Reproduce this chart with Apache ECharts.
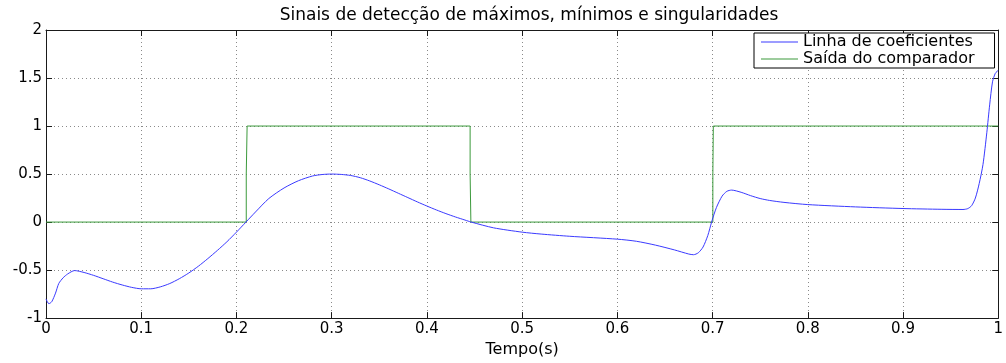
<!DOCTYPE html>
<html>
<head>
<meta charset="utf-8">
<script src="https://cdn.jsdelivr.net/npm/echarts@6/dist/echarts.min.js"></script>
<style>
  html, body { margin: 0; padding: 0; background: #fff; }
  #chart { width: 1006px; height: 363px; }
</style>
</head>
<body>
<div id="chart"></div>
<script>
// Coefficient line: time samples (s) and values
const coefTime = [0, 0.003, 0.006, 0.01, 0.0134, 0.018, 0.0228, 0.03, 0.04, 0.05, 0.06, 0.07, 0.08, 0.09, 0.1, 0.11, 0.12, 0.13, 0.14, 0.15, 0.16, 0.17, 0.18, 0.19, 0.2, 0.21, 0.22, 0.234, 0.25, 0.265, 0.28, 0.29, 0.3, 0.31, 0.32, 0.33, 0.34, 0.35, 0.36, 0.37, 0.38, 0.39, 0.4, 0.41, 0.42, 0.43, 0.44, 0.4465, 0.47, 0.5, 0.52, 0.55, 0.6, 0.62, 0.64, 0.66, 0.675, 0.68, 0.685, 0.69, 0.695, 0.699, 0.704, 0.71, 0.715, 0.72, 0.73, 0.74, 0.75, 0.76, 0.775, 0.8, 0.85, 0.9, 0.94, 0.963, 0.968, 0.972, 0.976, 0.98, 0.984, 0.988, 0.991, 0.994, 0.997, 1.0];
const coefValue = [-0.80, -0.85, -0.83, -0.74, -0.64, -0.58, -0.54, -0.505, -0.525, -0.555, -0.59, -0.625, -0.655, -0.68, -0.695, -0.695, -0.675, -0.64, -0.59, -0.53, -0.46, -0.38, -0.295, -0.205, -0.105, 0.0, 0.105, 0.245, 0.355, 0.43, 0.48, 0.495, 0.50, 0.496, 0.485, 0.462, 0.428, 0.388, 0.345, 0.3, 0.255, 0.21, 0.167, 0.126, 0.088, 0.053, 0.021, 0.0, -0.06, -0.105, -0.125, -0.148, -0.178, -0.2, -0.24, -0.29, -0.333, -0.34, -0.32, -0.26, -0.14, 0.0, 0.15, 0.27, 0.32, 0.333, 0.31, 0.275, 0.245, 0.225, 0.205, 0.182, 0.158, 0.141, 0.133, 0.131, 0.14, 0.17, 0.25, 0.4, 0.6, 0.93, 1.22, 1.46, 1.55, 1.58];

// Comparator output: step signal (time, level)
const compTime = [0, 0.2103, 0.2103, 0.2112, 0.2112, 0.4454, 0.4454, 0.4462, 0.4462, 0.7003, 0.7003, 0.7008, 0.7008, 1.0];
const compValue = [0, 0, 0.5, 0.5, 1, 1, 0.5, 0.5, 0, 0, 0.5, 0.5, 1, 1];

const seriesNames = ['Linha de coeficientes', 'Saída do comparador'];
const titleText = 'Sinais de detecção de máximos, mínimos e singularidades';
const xName = 'Tempo(s)';

const zip = (xs, ys) => xs.map((x, i) => [x, ys[i]]);

const FONT = 'DejaVu Sans';
const gridLine = { show: true, lineStyle: { color: '#8a8a8a', type: [1, 3], width: 1 } };
const frameLine = { show: true, onZero: false, lineStyle: { color: '#1a1a1a', width: 1 } };
const innerTick = { show: true, inside: true, length: 6, lineStyle: { color: '#1a1a1a' } };

const chart = echarts.init(document.getElementById('chart'), null, { renderer: 'canvas' });
chart.setOption({
  animation: false,
  backgroundColor: '#fff',
  title: {
    text: titleText,
    left: 524,
    textAlign: 'center',
    top: 2,
    textStyle: { fontFamily: FONT, fontSize: 17, fontWeight: 'normal', color: '#000' }
  },
  legend: {
    data: seriesNames,
    orient: 'vertical',
    left: 754,
    top: 33,
    padding: [1, 20, 1, 7],
    itemGap: 1,
    itemWidth: 37,
    itemHeight: 1,
    icon: 'rect',
    borderColor: '#000',
    borderWidth: 1,
    backgroundColor: '#fff',
    textStyle: { fontFamily: FONT, fontSize: 16, color: '#000', lineHeight: 16 }
  },
  grid: { left: 46, right: 3, top: 30, bottom: 36, containLabel: false },
  xAxis: [
    {
      type: 'value', min: 0, max: 1, interval: 0.1, position: 'bottom',
      name: xName, nameLocation: 'middle', nameGap: 20,
      nameTextStyle: { fontFamily: FONT, fontSize: 16, color: '#000' },
      axisLine: frameLine, axisTick: innerTick, splitLine: gridLine,
      axisLabel: { margin: 4, fontFamily: FONT, fontSize: 15, color: '#000' }
    },
    {
      type: 'value', min: 0, max: 1, interval: 0.1, position: 'top',
      axisLine: frameLine, axisTick: innerTick, splitLine: { show: false },
      axisLabel: { show: false }
    }
  ],
  yAxis: [
    {
      type: 'value', min: -1, max: 2, interval: 0.5, position: 'left',
      axisLine: frameLine, axisTick: innerTick, splitLine: gridLine,
      axisLabel: { margin: 4, fontFamily: FONT, fontSize: 15, color: '#000' }
    },
    {
      type: 'value', min: -1, max: 2, interval: 0.5, position: 'right',
      axisLine: frameLine, axisTick: innerTick, splitLine: { show: false },
      axisLabel: { show: false }
    }
  ],
  series: [
    {
      name: seriesNames[0], type: 'line', xAxisIndex: 0, yAxisIndex: 0,
      data: zip(coefTime, coefValue),
      showSymbol: false, symbol: 'none', smooth: 0.25,
      lineStyle: { color: '#3a3aff', width: 1 }, itemStyle: { color: '#3a3aff' },
      z: 3
    },
    {
      name: seriesNames[1], type: 'line', xAxisIndex: 0, yAxisIndex: 0,
      data: zip(compTime, compValue),
      showSymbol: false, symbol: 'none',
      lineStyle: { color: '#3c9a3c', width: 1 }, itemStyle: { color: '#3c9a3c' },
      z: 2
    }
  ]
});
</script>
</body>
</html>
